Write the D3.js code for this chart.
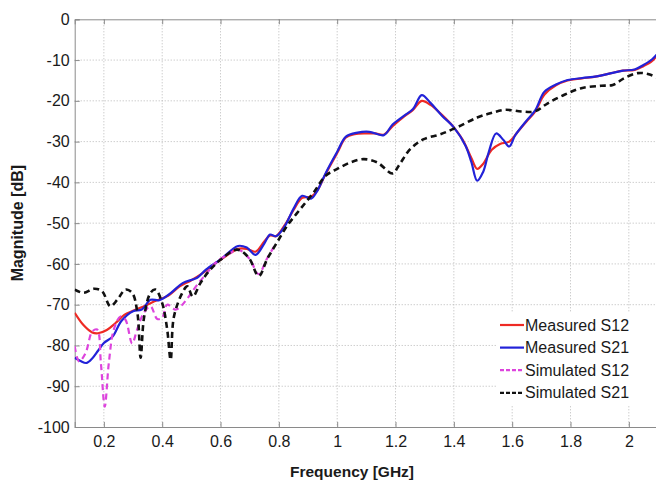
<!DOCTYPE html>
<html>
<head>
<meta charset="utf-8">
<script src="https://cdn.jsdelivr.net/npm/d3@7"></script>
<style>
  body { margin: 0; background: #fff; }
  text { font-family: "Liberation Sans", Arial, sans-serif; }
</style>
</head>
<body>
<div id="chart"></div>
<script>
// frequency [GHz], magnitude [dB]
const measS12 = [
  [0.10, -72], [0.13, -75], [0.16, -76.8], [0.18, -77], [0.21, -76.2], [0.24, -74.5],
  [0.27, -72.5], [0.30, -71.5], [0.34, -70.3], [0.38, -69], [0.42, -67.8], [0.46, -65.5],
  [0.50, -64], [0.54, -62.2], [0.58, -60], [0.62, -58], [0.66, -56.3], [0.69, -56.3],
  [0.72, -57], [0.75, -54.5], [0.77, -53], [0.79, -53.2], [0.82, -50.5], [0.85, -46.8],
  [0.88, -43.8], [0.91, -43.5], [0.93, -42.2], [0.96, -38], [1.00, -32.8], [1.03, -29],
  [1.06, -28.2], [1.10, -28], [1.13, -28], [1.16, -28.3], [1.19, -26.2], [1.23, -23.8],
  [1.26, -22.2], [1.29, -20], [1.32, -21], [1.36, -23.5], [1.40, -26.5], [1.43, -29.5],
  [1.46, -34], [1.48, -36.7], [1.50, -35.5], [1.53, -32], [1.56, -30.5], [1.59, -30],
  [1.62, -27.5], [1.65, -25], [1.68, -22.5], [1.71, -18.5], [1.75, -16.2], [1.79, -15],
  [1.84, -14.5], [1.89, -14], [1.94, -13.2], [1.98, -12.6], [2.02, -12.4], [2.05, -11.5],
  [2.08, -10.2], [2.10, -8.5]
];
const measS21 = [
  [0.10, -83], [0.12, -83.8], [0.14, -84.3], [0.16, -83.2], [0.18, -81.3], [0.20, -79.4],
  [0.23, -77.8], [0.26, -74], [0.30, -71.6], [0.33, -71.2], [0.36, -68.8], [0.39, -68.9],
  [0.43, -67.1], [0.47, -64.7], [0.52, -63.4], [0.55, -61.4], [0.60, -58.9], [0.66, -55.6],
  [0.69, -56], [0.72, -57.8], [0.75, -55], [0.77, -52.8], [0.79, -53.2], [0.82, -50.8],
  [0.85, -46.5], [0.88, -43.3], [0.91, -44], [0.93, -42.3], [0.96, -37.8], [1.00, -32.5],
  [1.03, -28.8], [1.07, -27.8], [1.11, -27.6], [1.16, -28.4], [1.19, -25.8], [1.23, -23.6],
  [1.26, -22], [1.29, -18.6], [1.32, -20.5], [1.36, -23.7], [1.40, -26.5], [1.44, -31],
  [1.46, -35], [1.48, -39.6], [1.50, -37.5], [1.52, -32.5], [1.545, -28], [1.57, -29.6],
  [1.59, -31.2], [1.61, -28.5], [1.65, -24.8], [1.68, -22.2], [1.71, -17.8], [1.75, -16],
  [1.79, -14.9], [1.84, -14.4], [1.89, -14], [1.94, -13.2], [1.98, -12.6], [2.02, -12.3],
  [2.05, -11.2], [2.08, -9.8], [2.10, -8.3]
];
const simS12 = [
  [0.10, -80.2], [0.115, -83.9], [0.137, -81.9], [0.16, -76.6], [0.177, -76.1], [0.19, -84.5],
  [0.203, -95], [0.217, -84.3], [0.234, -76.1], [0.257, -72.9], [0.274, -73.7], [0.297, -79.5],
  [0.314, -76.1], [0.337, -72], [0.36, -70.4], [0.383, -73.5], [0.40, -73.2], [0.417, -70],
  [0.446, -71.2], [0.469, -70], [0.491, -68], [0.52, -65.1], [0.554, -62.2], [0.589, -59.3],
  [0.63, -57.5], [0.66, -56.5], [0.70, -58.8], [0.73, -62.5], [0.76, -58.6], [0.79, -55]
];
const simS21 = [
  [0.10, -66.3], [0.13, -67.1], [0.166, -66.1], [0.194, -66.7], [0.222, -70.4], [0.246, -68.8],
  [0.274, -66.3], [0.297, -67.1], [0.315, -72], [0.326, -83], [0.338, -73], [0.36, -67.1],
  [0.377, -66.3], [0.40, -69.6], [0.417, -76], [0.429, -83.5], [0.44, -73], [0.469, -67.1],
  [0.486, -65.5], [0.505, -68], [0.531, -64.7], [0.56, -61.8], [0.60, -59], [0.657, -56.5],
  [0.697, -58.5], [0.731, -63], [0.76, -58.8], [0.794, -54.7], [0.829, -50.6], [0.874, -46.5],
  [0.92, -42.4], [0.96, -38.4], [1.00, -36.7], [1.046, -35.1], [1.091, -34.3], [1.137, -35.1],
  [1.19, -37.8], [1.211, -35.9], [1.251, -31.8], [1.297, -29.4], [1.354, -28.2], [1.411, -26.5],
  [1.48, -24.1], [1.528, -23], [1.574, -22.2], [1.631, -22.6], [1.677, -22.6], [1.722, -20.6],
  [1.779, -18.5], [1.837, -16.9], [1.905, -16.3], [1.945, -16.1], [1.985, -14.4], [2.031, -13.2],
  [2.065, -13.4], [2.10, -14.4]
];
const xTicks = [0.2, 0.4, 0.6, 0.8, 1, 1.2, 1.4, 1.6, 1.8, 2];
const yTicks = [0, -10, -20, -30, -40, -50, -60, -70, -80, -90, -100];
const seriesNames = ["Measured S12", "Measured S21", "Simulated S12", "Simulated S21"];

const width = 656, height = 483;
const mLeft = 74.7, mRight = 658, mTop = 19.3, mBottom = 427;

const svg = d3.select("#chart").append("svg")
  .attr("width", width).attr("height", height);

const x = d3.scaleLinear().domain([0.1, 2.1]).range([mLeft, mRight]);
const y = d3.scaleLinear().domain([-100, 0]).range([mBottom, mTop]);

svg.append("defs").append("clipPath").attr("id", "clip")
  .append("rect").attr("x", mLeft).attr("y", mTop)
  .attr("width", mRight - mLeft).attr("height", mBottom - mTop);

// grid
const grid = svg.append("g").attr("stroke", "#b8b8b8").attr("stroke-dasharray", "1,2").attr("stroke-width", 1);
grid.selectAll(".gx").data(xTicks).join("line")
  .attr("x1", d => x(d)).attr("x2", d => x(d)).attr("y1", mTop).attr("y2", mBottom);
grid.selectAll(".gy").data(yTicks.slice(1, -1)).join("line")
  .attr("x1", mLeft).attr("x2", mRight).attr("y1", d => y(d)).attr("y2", d => y(d));

// axes (plain hyphen for negatives, like the original)
const xAxis = d3.axisBottom(x).tickValues(xTicks).tickSize(-5).tickPadding(9).tickFormat(d => String(d));
const yAxis = d3.axisLeft(y).tickValues(yTicks).tickSize(-5).tickPadding(5).tickFormat(d => String(d));
const gx = svg.append("g").attr("transform", `translate(0,${mBottom})`).call(xAxis);
const gy = svg.append("g").attr("transform", `translate(${mLeft},0)`).call(yAxis);
const gxTop = svg.append("g").attr("transform", `translate(0,${mTop})`)
  .call(d3.axisTop(x).tickValues(xTicks).tickSize(-5).tickFormat(""));
[gx, gy, gxTop].forEach(g => {
  g.select(".domain").attr("stroke", "#8a8a8a");
  g.selectAll(".tick line").attr("stroke", "#8a8a8a");
  g.selectAll("text").attr("font-size", 16).attr("fill", "#1a1a1a")
    .attr("font-family", "'Liberation Sans', Arial, sans-serif");
});

// curves
const line = d3.line().x(d => x(d[0])).y(d => y(d[1])).curve(d3.curveCatmullRom.alpha(0.5));
const plot = svg.append("g").attr("clip-path", "url(#clip)").attr("fill", "none")
  .attr("stroke-linejoin", "round");
const styles = [
  { data: measS12, color: "#ee2a24", dash: null, w: 2.2 },
  { data: measS21, color: "#2222d8", dash: null, w: 2.2 },
  { data: simS12, color: "#dd44dd", dash: "6,4", w: 2.2 },
  { data: simS21, color: "#111111", dash: "6,4", w: 2.6 }
];
styles.forEach(s => {
  plot.append("path").datum(s.data)
    .attr("d", line)
    .attr("stroke", s.color)
    .attr("stroke-width", s.w)
    .attr("stroke-dasharray", s.dash);
});

// legend
const lg = svg.append("g");
lg.append("rect").attr("x", 497).attr("y", 312).attr("width", 158).attr("height", 93).attr("fill", "#fff");
seriesNames.forEach((name, i) => {
  const cy = 325 + i * 22.6;
  lg.append("line").attr("x1", 500).attr("x2", 524).attr("y1", cy).attr("y2", cy)
    .attr("stroke", styles[i].color).attr("stroke-width", 2.2)
    .attr("stroke-dasharray", styles[i].dash ? "4,2" : null);
  lg.append("text").attr("x", 525).attr("y", cy + 5.5).attr("font-size", 16)
    .attr("fill", "#1a1a1a").text(name);
});

// axis titles
svg.append("text").attr("x", 352).attr("y", 477)
  .attr("text-anchor", "middle").attr("font-size", 15.5).attr("font-weight", "bold")
  .attr("fill", "#1a1a1a").text("Frequency [GHz]");
svg.append("text").attr("transform", `translate(23,${(mTop + mBottom) / 2}) rotate(-90)`)
  .attr("text-anchor", "middle").attr("font-size", 16).attr("font-weight", "bold")
  .attr("fill", "#1a1a1a").text("Magnitude [dB]");
</script>
</body>
</html>
